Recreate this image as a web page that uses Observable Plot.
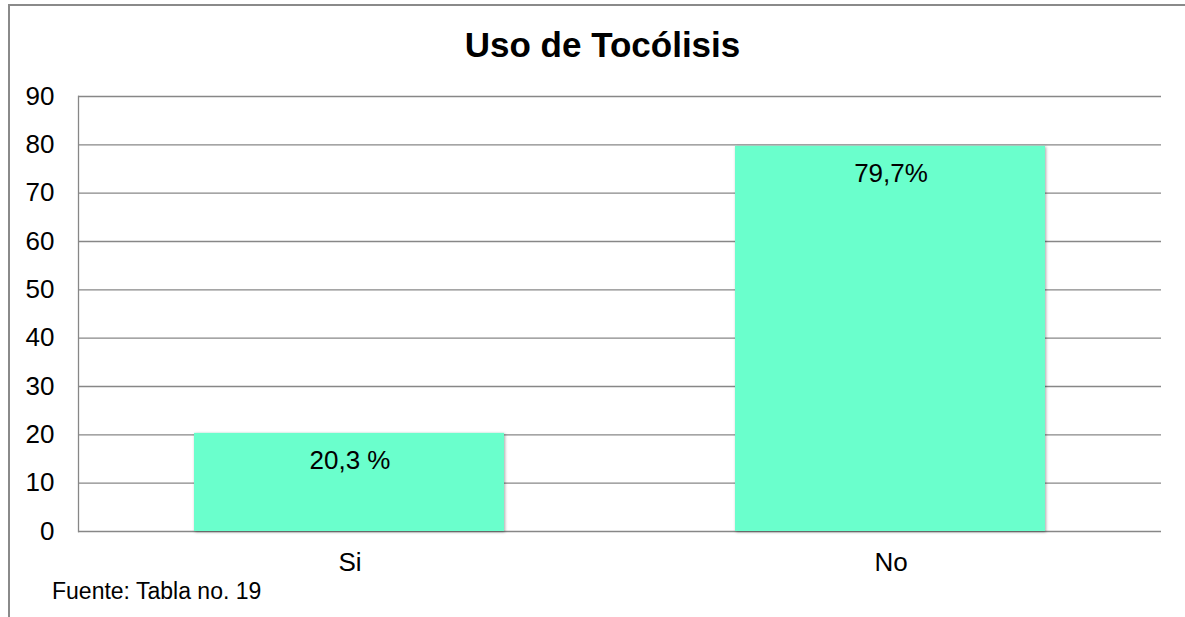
<!DOCTYPE html>
<html>
<head>
<meta charset="utf-8">
<script src="https://cdn.jsdelivr.net/npm/d3@7"></script>
<script src="https://cdn.jsdelivr.net/npm/@observablehq/plot@0.6"></script>
<style>
  html, body { margin: 0; padding: 0; background: #fff; overflow: hidden; }
  #wrap { position: relative; width: 1185px; height: 617px; overflow: hidden; font-family: "Liberation Sans", Arial, sans-serif; }
  #border { position: absolute; left: 8px; top: 4px; width: 1175px; height: 620px; border-top: 2px solid #8a8a8a; border-left: 2px solid #8a8a8a; }
  #title { position: absolute; left: 0; width: 1185px; top: 25px; text-align: center; font-weight: bold; font-size: 35px; color: #000; line-height: 40px; padding-left: 20px; box-sizing: border-box; }
  #source { position: absolute; left: 52px; top: 577px; font-size: 23px; color: #000; line-height: 28px; }
  #chart { position: absolute; left: 0; top: 0; }
  .tocplot g[aria-label="bar"] rect { filter: drop-shadow(1px 1px 1.5px rgba(0,0,0,0.35)); }
</style>
</head>
<body>
<div id="wrap">
  <div id="border"></div>
  <div id="chart"></div>
  <div id="title"></div>
  <div id="source"></div>
</div>
<script>
const title = "Uso de Tocólisis";
const source = "Fuente: Tabla no. 19";
const categories = ["Si", "No"];
const values = [20.3, 79.7];
const valueLabels = ["20,3 %", "79,7%"];
const yTicks = [0, 10, 20, 30, 40, 50, 60, 70, 80, 90];

document.getElementById("title").textContent = title;
document.getElementById("source").textContent = source;

const data = categories.map((c, i) => ({category: c, value: values[i], label: valueLabels[i]}));

const chart = Plot.plot({
  className: "tocplot",
  width: 1185,
  height: 617,
  marginLeft: 78,
  marginRight: 24,
  marginTop: 96,
  marginBottom: 86,
  style: {fontFamily: "'Liberation Sans', Arial, sans-serif", fontSize: "26px", color: "#000", background: "transparent"},
  x: {domain: categories, padding: 0, label: null},
  y: {domain: [0, 90], label: null},
  marks: [
    Plot.gridY(yTicks, {stroke: "#878787", strokeOpacity: 1, strokeWidth: 1.3}),
    Plot.frame({anchor: "left", stroke: "#878787", strokeWidth: 1.3}),
    Plot.axisY(yTicks, {tickSize: 0, tickPadding: 24, fontSize: 26, label: null}),
    Plot.axisX({tickSize: 0, tickPadding: 21, fontSize: 26, label: null}),
    Plot.barY(data, {x: "category", y: "value", fill: "#6AFFCC", insetLeft: 115, insetRight: 116}),
    Plot.text(data, {x: "category", y: "value", text: "label", dy: 27, fontSize: 26, fill: "#000", lineAnchor: "middle"})
  ]
});
document.getElementById("chart").appendChild(chart);
</script>
</body>
</html>
